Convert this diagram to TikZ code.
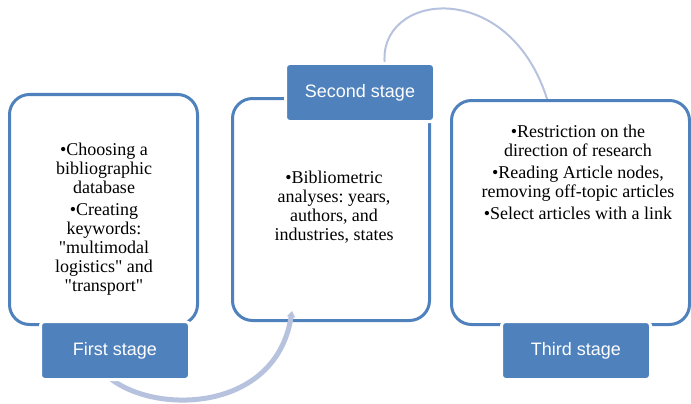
\documentclass[tikz,border=0pt]{standalone}
\usepackage{fontspec}
\setmainfont{Liberation Serif}
\newfontfamily\labelfont{Liberation Sans}
\frenchspacing
\usetikzlibrary{arrows.meta}
\definecolor{boxblue}{RGB}{79,129,189}
\definecolor{arcblue}{RGB}{182,194,222}
\tikzset{
  stagebox/.style={draw=boxblue, line width=3pt, fill=white, rounded corners=20pt,
    inner sep=0pt},
  stagelabel/.style={fill=boxblue, draw=white, line width=3pt, rounded corners=4pt,
    text=white, font=\labelfont\fontsize{18}{21}\selectfont,
    minimum width=149pt, minimum height=58pt, inner sep=0pt},
  stagetext/.style={align=center, anchor=north, inner sep=0pt,
    font=\fontsize{18}{19}\selectfont},
  loopline/.style={draw=arcblue, line width=2pt},
  bendarrow/.style={draw=arcblue, line width=5pt,
    -{Triangle[width=8pt,length=6pt]}},
}
\begin{document}
\begin{tikzpicture}[x=1pt,y=-1pt]
\useasboundingbox (0,0) rectangle (691,404);

% stage frames
\node[stagebox, minimum width=188pt, minimum height=230pt] (b1) at (103.5,209.5) {};
\node[stagebox, minimum width=197pt, minimum height=222pt] (b2) at (331,209.5) {};

% loop from the second stage over to the third frame
\coordinate (loopstart) at (385,66);
\coordinate (loopend) at (548,102);
\draw[loopline] (loopstart) .. controls (375,-8) and (510,-25) .. (loopend);

\node[stagebox, minimum width=238pt, minimum height=224pt] (b3) at (570.5,212.5) {};

% frame contents
\node[stagetext] (t1) at (104,142.8)
  {•Choosing a\\ bibliographic\\ database\\[3.5pt]
   •Creating\\ keywords:\\ \textquotedbl multimodal\\
   logistics\textquotedbl{} and\\ \textquotedbl transport\textquotedbl};
\node[stagetext] (t2) at (334,170.5)
  {•Bibliometric\\ analyses: years,\\ authors, and\\ industries, states};
\node[stagetext] (t3) at (578,125.2)
  {•Restriction on the\\ direction of research\\[3pt]
   •Reading Article nodes,\\ removing off-topic articles\\[3pt]
   •Select articles with a link};

% bent arrow from the first stage up to the second frame
\coordinate (arcstart) at (100,368);
\coordinate (arcend) at (292,311);
\draw[bendarrow] (arcstart) .. controls (135,415) and (275,420) .. (arcend);

% stage labels
\node[stagelabel] (l1) at (115,350.5) {First stage};
\node[stagelabel] (l2) at (360,92.5) {Second stage};
\node[stagelabel] (l3) at (576,350.5) {Third stage};
\end{tikzpicture}
\end{document}
